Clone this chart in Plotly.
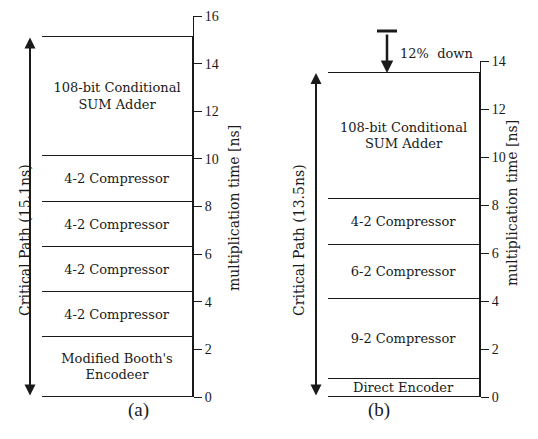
import plotly.graph_objects as go

# ---- data ----
a_labels = ["Modified Booth's<br>Encodeer", "4-2 Compressor", "4-2 Compressor",
            "4-2 Compressor", "4-2 Compressor", "108-bit Conditional<br>SUM Adder"]
a_values = [2.5, 1.9, 1.9, 1.9, 1.9, 5.0]

b_labels = ["Direct Encoder", "9-2 Compressor", "6-2 Compressor",
            "4-2 Compressor", "108-bit Conditional<br>SUM Adder"]
b_values = [0.75, 3.35, 2.25, 1.9, 5.25]

a_ticks = [0, 2, 4, 6, 8, 10, 12, 14, 16]
b_ticks = [0, 2, 4, 6, 8, 10, 12, 14]

a_total = round(sum(a_values), 2)
b_total = round(sum(b_values), 2)

SERIF = "DejaVu Serif"
TICKF = "Liberation Serif"
INK = "#1a1a1a"

W, H = 538, 439
OFF = 8  # page body margin


def px(s):
    return (s - OFF) / W


def py(s):
    return 1 - (s - OFF) / H


fig = go.Figure()

for lab, val in zip(a_labels, a_values):
    fig.add_trace(go.Bar(
        x=["a"], y=[val], text=[lab], textposition="inside",
        insidetextanchor="middle", constraintext="none", textangle=0,
        textfont=dict(family=SERIF, size=13, color=INK),
        marker=dict(color="white", line=dict(color=INK, width=1)),
        xaxis="x", yaxis="y", showlegend=False, hoverinfo="skip"))

for lab, val in zip(b_labels, b_values):
    fig.add_trace(go.Bar(
        x=["b"], y=[val], text=[lab], textposition="inside",
        insidetextanchor="middle", constraintext="none", textangle=0,
        textfont=dict(family=SERIF, size=13, color=INK),
        marker=dict(color="white", line=dict(color=INK, width=1)),
        xaxis="x2", yaxis="y2", showlegend=False, hoverinfo="skip"))


def yax(rng, ticks, dom, anchor):
    return dict(range=rng, tickvals=ticks, domain=dom, anchor=anchor, side="right",
                showline=True, linecolor=INK, linewidth=1, ticks="outside",
                ticklen=8, tickwidth=1, tickcolor=INK, showgrid=False, zeroline=False,
                automargin=False, ticklabeloverflow="allow",
                tickfont=dict(family=TICKF, size=14, color=INK), fixedrange=True)


def xax(dom, anchor):
    return dict(domain=dom, anchor=anchor, visible=False, range=[-0.5, 0.5],
                automargin=False, fixedrange=True)


fig.update_layout(
    width=W, height=H, margin=dict(l=0, r=0, t=0, b=0),
    paper_bgcolor="white", plot_bgcolor="rgba(0,0,0,0)",
    barmode="stack", bargap=0,
    xaxis=xax([px(42), px(193)], "y"),
    yaxis=yax([0, 16], a_ticks, [py(397), py(16)], "x"),
    xaxis2=xax([px(328), px(480)], "y2"),
    yaxis2=yax([0, 14], b_ticks, [py(397), py(61)], "x2"),
)

ann = []
# critical path arrows
for xp, tot, yr in [(px(30), a_total, "y"), (px(316), b_total, "y2")]:
    ann.append(dict(x=xp, xref="paper", y=tot, yref=yr, ax=0, axref="pixel",
                    ay=0, ayref=yr, text="", showarrow=True, arrowside="end+start",
                    arrowhead=2, arrowsize=1.1, arrowwidth=2, arrowcolor=INK,
                    standoff=0, startstandoff=0))
# critical path labels
ann.append(dict(x=px(15), y=py(240), xref="paper", yref="paper",
                text=f"Critical Path ({a_total}ns)", textangle=-90, showarrow=False,
                font=dict(family=SERIF, size=14, color=INK)))
ann.append(dict(x=px(299), y=py(240), xref="paper", yref="paper",
                text=f"Critical Path ({b_total}ns)", textangle=-90, showarrow=False,
                font=dict(family=SERIF, size=14, color=INK)))
# axis titles
ann.append(dict(x=px(234), y=py(208), xref="paper", yref="paper",
                text="multiplication time [ns]", textangle=-90, showarrow=False,
                font=dict(family=SERIF, size=14, color=INK)))
ann.append(dict(x=px(522), y=py(203), xref="paper", yref="paper",
                text="multiplication time [ns]", textangle=-90, showarrow=False,
                font=dict(family=SERIF, size=14, color=INK)))
# panel labels
ann.append(dict(x=px(126), y=py(423), xref="paper", yref="paper", text="(a)",
                showarrow=False, font=dict(family=TICKF, size=19, color=INK)))
ann.append(dict(x=px(392), y=py(423), xref="paper", yref="paper", text="(b)",
                showarrow=False, font=dict(family=TICKF, size=19, color=INK)))
# 12% down arrow
arrow_x = px(387)
ann.append(dict(x=arrow_x, xref="paper", y=b_total, yref="y2", ax=0, ay=-40,
                axref="pixel", ayref="pixel", text="", showarrow=True,
                arrowhead=2, arrowsize=1, arrowwidth=2.5, arrowcolor=INK, standoff=0))
ann.append(dict(x=px(398), y=py(53), xref="paper", yref="paper",
                text="12%  down", xanchor="left", yanchor="middle", showarrow=False,
                font=dict(family=SERIF, size=13, color=INK)))
fig.update_layout(annotations=ann)

fig.add_shape(type="line", xref="paper", xsizemode="pixel", xanchor=arrow_x,
              x0=-10, x1=10, yref="paper", y0=py(31), y1=py(31),
              line=dict(color=INK, width=3))

fig.write_html("out.html")
